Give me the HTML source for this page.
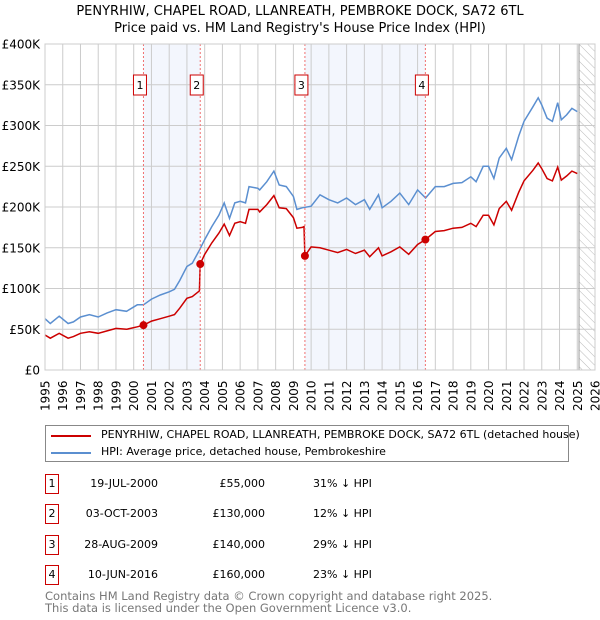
<!DOCTYPE html>
<html><head><meta charset="utf-8"><style>
body{margin:0;background:#fff;font-family:"DejaVu Sans","Liberation Sans",sans-serif;}
#wrap{position:relative;width:600px;height:620px;overflow:hidden}
.t{position:absolute;font-size:12px;color:#000;white-space:nowrap}
</style></head><body><div id="wrap">
<div class="t" style="left:0;width:600px;text-align:center;top:4px;font-size:13px">PENYRHIW, CHAPEL ROAD, LLANREATH, PEMBROKE DOCK, SA72 6TL</div>
<div class="t" style="left:0;width:600px;text-align:center;top:21px;font-size:13px">Price paid vs. HM Land Registry's House Price Index (HPI)</div>
<svg id="chart" width="600" height="420" style="position:absolute;left:0;top:0"></svg>
<div style="position:absolute;left:45px;top:425px;width:524px;height:37px;border:1px solid #888;box-sizing:border-box">
<div style="position:absolute;left:5px;top:2px"><span style="position:absolute;top:7px;width:40px;height:2px;background:#cc0000"></span><span class="t" style="left:50px;font-size:11px;top:0">PENYRHIW, CHAPEL ROAD, LLANREATH, PEMBROKE DOCK, SA72 6TL (detached house)</span></div>
<div style="position:absolute;left:5px;top:19px"><span style="position:absolute;top:7px;width:40px;height:2px;background:#5b8fd0"></span><span class="t" style="left:50px;font-size:11px;top:0">HPI: Average price, detached house, Pembrokeshire</span></div>
</div>
<div id="table"></div>
<div class="t" style="left:45px;top:589px;color:#777;font-size:11.5px">Contains HM Land Registry data © Crown copyright and database right 2025.</div>
<div class="t" style="left:45px;top:601px;color:#777;font-size:11.5px">This data is licensed under the Open Government Licence v3.0.</div>
</div>
<script>
const yTicks=[0,50,100,150,200,250,300,350,400];
const yTickLabels=["£0","£50K","£100K","£150K","£200K","£250K","£300K","£350K","£400K"];
const years=[1995,1996,1997,1998,1999,2000,2001,2002,2003,2004,2005,2006,2007,2008,2009,2010,2011,2012,2013,2014,2015,2016,2017,2018,2019,2020,2021,2022,2023,2024,2025,2026];
const hpiT=[1995,1995.3,1995.8,1996.3,1996.6,1997,1997.5,1998,1998.5,1999,1999.6,2000.2,2000.55,2001,2001.5,2002,2002.3,2002.6,2003,2003.3,2003.7,2004,2004.4,2004.8,2005.1,2005.4,2005.7,2006,2006.3,2006.5,2007,2007.1,2007.5,2007.9,2008.2,2008.6,2009,2009.2,2009.5,2010,2010.5,2011,2011.5,2012,2012.5,2013,2013.3,2013.8,2014,2014.5,2015,2015.5,2016,2016.45,2017,2017.5,2018,2018.5,2019,2019.3,2019.7,2020,2020.3,2020.6,2021,2021.3,2021.7,2022,2022.5,2022.8,2023,2023.3,2023.6,2023.9,2024.1,2024.4,2024.7,2025];
const hpiV=[63,57,66,57,59,65,68,65,70,74,72,80,80,87,92,96,99,110,127,131,147,160,176,190,205,186,205,207,205,225,223,221,231,244,227,225,213,197,199,201,215,209,205,211,203,209,197,215,199,207,217,203,221,211,225,225,229,230,237,231,250,250,235,260,272,258,287,305,323,334,325,309,305,328,307,313,321,317];
const priceT=[1995,1995.3,1995.8,1996.3,1996.6,1997,1997.5,1998,1998.5,1999,1999.6,2000.2,2000.55,2001,2001.5,2002,2002.3,2002.6,2003,2003.3,2003.7,2003.75,2004,2004.4,2004.8,2005.1,2005.4,2005.7,2006,2006.3,2006.5,2007,2007.1,2007.5,2007.9,2008.2,2008.6,2009,2009.2,2009.5,2009.6,2009.65,2010,2010.5,2011,2011.5,2012,2012.5,2013,2013.3,2013.8,2014,2014.5,2015,2015.5,2016,2016.44,2017,2017.5,2018,2018.5,2019,2019.3,2019.7,2020,2020.3,2020.6,2021,2021.3,2021.7,2022,2022.5,2022.8,2023,2023.3,2023.6,2023.9,2024.1,2024.4,2024.7,2025];
const priceV=[43,39,45,39,41,45,47,45,48,51,50,53,55,60,63,66,68,76,88,90,97,130,142,156,168,179,165,180,182,180,197,197,194,203,214,199,198,187,174,175,176,140,151,150,147,144,148,143,147,139,150,140,145,151,142,154,160,170,171,174,175,180,176,190,190,178,198,207,196,218,232,245,254,247,235,232,249,233,238,244,241];
const saleT=[2000.55,2003.75,2009.65,2016.44];
const saleV=[55,130,140,160];
const saleLabels=["1","2","3","4"];
const saleDates=["19-JUL-2000","03-OCT-2003","28-AUG-2009","10-JUN-2016"];
const salePrices=["£55,000","£130,000","£140,000","£160,000"];
const salePct=["31% ↓ HPI","12% ↓ HPI","29% ↓ HPI","23% ↓ HPI"];
const X0=45,X1=595,Y0=370,Y1=44;
const xs=t=>X0+(t-1995)/(2026-1995)*(X1-X0);
const ys=v=>Y0-v/400*(Y0-Y1);
const svg=document.getElementById('chart');const NS='http://www.w3.org/2000/svg';
function mk(tag,at,name){const e=document.createElementNS(NS,tag);for(const k in at)e.setAttribute(k,at[k]);


svg.appendChild(e);return e;}
svg.innerHTML='<defs><pattern id="hatch" width="6" height="6" patternUnits="userSpaceOnUse" patternTransform="rotate(-45)"><line x1="0" y1="0" x2="0" y2="6" stroke="#bbb" stroke-width="1"/></pattern></defs>';
for(let i=0;i<saleT.length;i+=2){mk('rect',{x:xs(saleT[i]),y:Y1,width:xs(saleT[i+1])-xs(saleT[i]),height:Y0-Y1,fill:'#f3f6fd'},'shaded-period');}
mk('rect',{x:xs(2025.1),y:Y1,width:X1-xs(2025.1),height:Y0-Y1,fill:'url(#hatch)'},'forecast-hatch');
years.forEach((y,i)=>{mk('line',{x1:xs(y),x2:xs(y),y1:Y1,y2:Y0,stroke:'#ccc','stroke-width':1},'x-gridline');
const t=mk('text',{x:0,y:0,transform:`translate(${xs(y)+4.5},${Y0+41}) rotate(-90)`,'font-size':12,fill:'#000'},'x-tick-label');t.textContent=y;});
yTicks.forEach((v,i)=>{mk('line',{x1:X0,x2:X1,y1:ys(v),y2:ys(v),stroke:'#ccc','stroke-width':1},'y-gridline');
const t=mk('text',{x:40,y:ys(v)+4.5,'text-anchor':'end','font-size':12,fill:'#000'},'y-tick-label');t.textContent=yTickLabels[i];});
mk('line',{x1:xs(2025.1),x2:xs(2025.1),y1:Y1,y2:Y0,stroke:'#999','stroke-width':1},'forecast-boundary');
const path=(T,V)=>T.map((t,i)=>(i?'L':'M')+xs(t).toFixed(1)+','+ys(V[i]).toFixed(1)).join('');
mk('path',{d:path(hpiT,hpiV),fill:'none',stroke:'#5b8fd0','stroke-width':1.5},'hpi-line');
mk('path',{d:path(priceT,priceV),fill:'none',stroke:'#cc0000','stroke-width':1.5},'price-paid-line');
saleT.forEach((t,i)=>{mk('line',{x1:xs(t),x2:xs(t),y1:Y1,y2:Y0,stroke:'#f07070','stroke-width':1,'stroke-dasharray':'2,2'},'sale-marker-line');
mk('circle',{cx:xs(t),cy:ys(saleV[i]),r:4,fill:'#cc0000'},'sale-point');
mk('rect',{x:xs(t)-10,y:75,width:13,height:20,fill:'#fff',stroke:'#cc0000','stroke-width':1},'sale-label-box');
const tx=mk('text',{x:xs(t)-3.5,y:89,'text-anchor':'middle','font-size':11},'sale-label');tx.textContent=saleLabels[i];});
mk('rect',{x:X0,y:Y1,width:X1-X0,height:Y0-Y1,fill:'none',stroke:'#ccc'},'plot-border');
const tb=document.getElementById('table');
saleDates.forEach((d,i)=>{const y=474+i*30.3;const r=document.createElement('div');


r.style.cssText=`position:absolute;left:0;top:${y}px;width:600px;height:22px`;
r.innerHTML=`<div class="t" style="left:45px;top:0;width:14px;height:20px;border:1px solid #cc0000;box-sizing:border-box;text-align:center;line-height:18px;font-size:11px">${saleLabels[i]}</div>
<div class="t" style="left:60px;width:98px;text-align:right;top:3px;font-size:11px">${d}</div>
<div class="t" style="left:160px;width:105px;text-align:right;top:3px;font-size:11px">${salePrices[i]}</div>
<div class="t" style="left:313px;top:3px;font-size:11px">${salePct[i]}</div>`;
tb.appendChild(r);});
</script></body></html>
